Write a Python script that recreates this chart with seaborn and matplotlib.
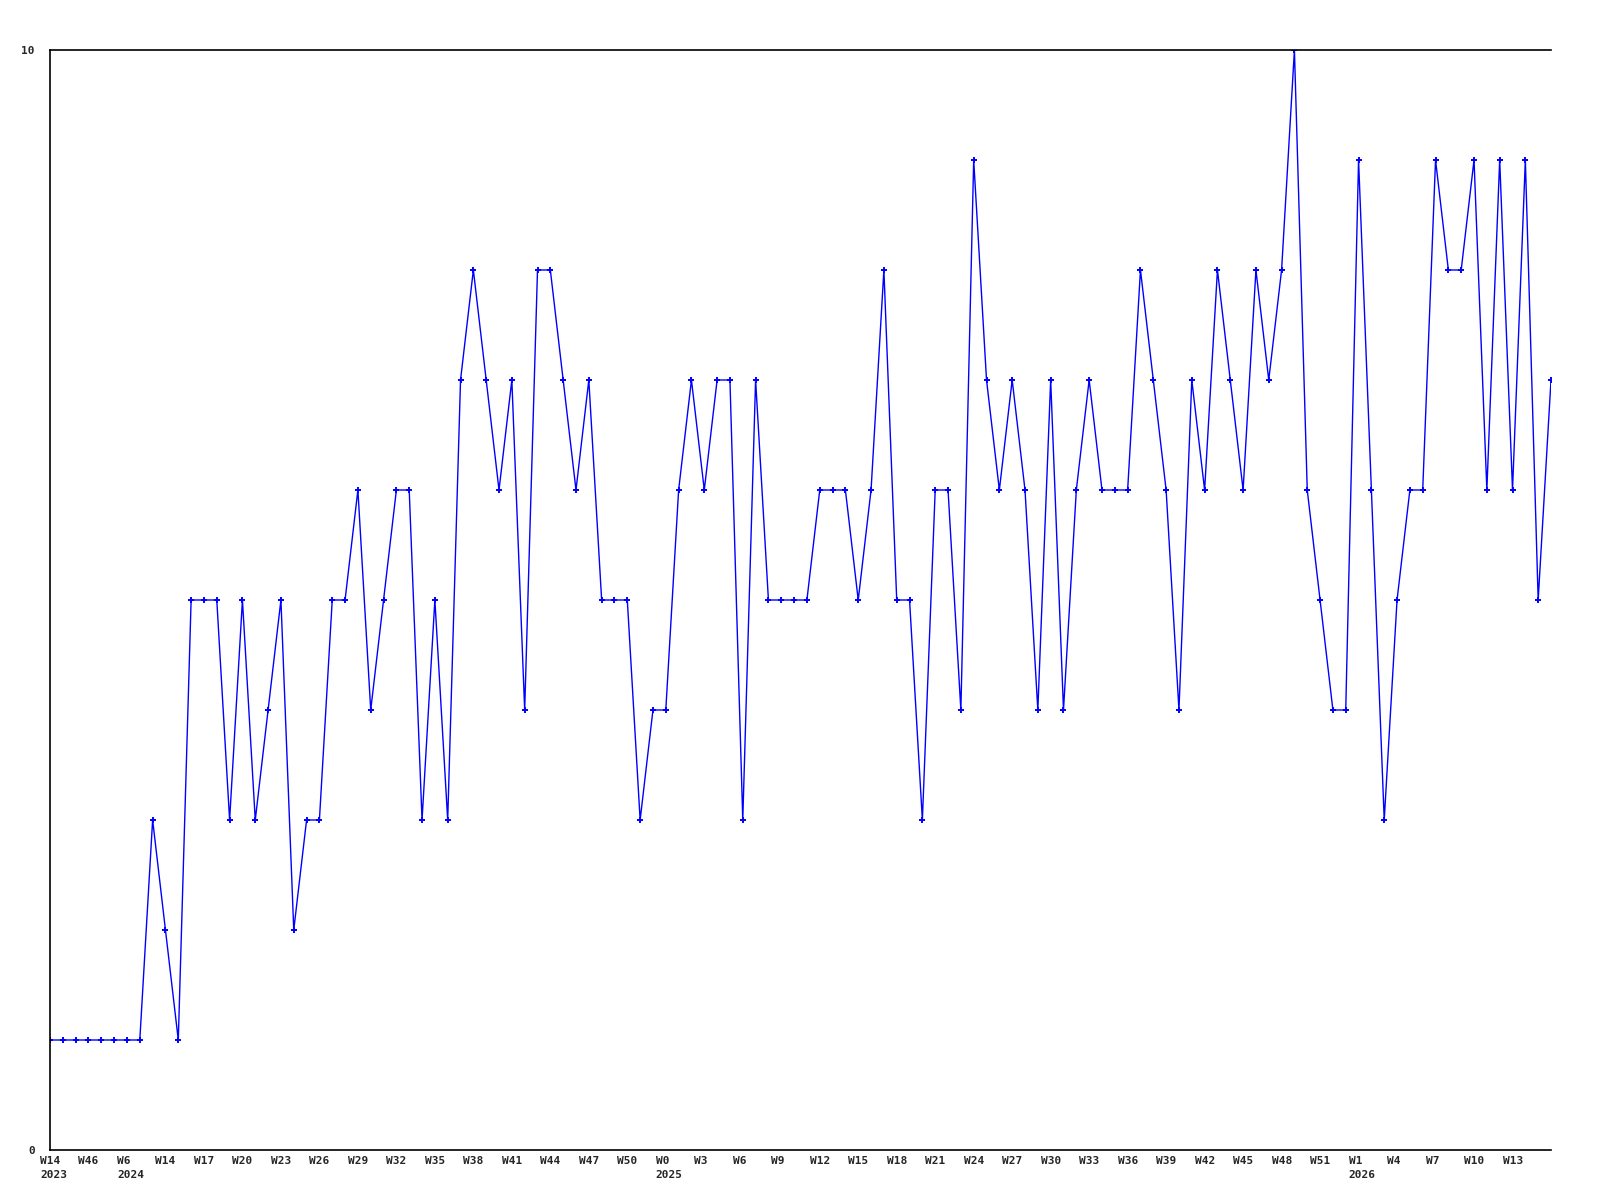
import numpy as np
import pandas as pd
import matplotlib
matplotlib.use("Agg")
import matplotlib.pyplot as plt
import seaborn as sns

# weekly counts, one per week
counts = [1, 1, 1, 1, 1, 1, 1, 1, 3, 2,
          1, 5, 5, 5, 3, 5, 3, 4, 5, 2,
          3, 3, 5, 5, 6, 4, 5, 6, 6, 3,
          5, 3, 7, 8, 7, 6, 7, 4, 8, 8,
          7, 6, 7, 5, 5, 5, 3, 4, 4, 6,
          7, 6, 7, 7, 3, 7, 5, 5, 5, 5,
          6, 6, 6, 5, 6, 8, 5, 5, 3, 6,
          6, 4, 9, 7, 6, 7, 6, 4, 7, 4,
          6, 7, 6, 6, 6, 8, 7, 6, 4, 7,
          6, 8, 7, 6, 8, 7, 8, 10, 6, 5,
          4, 4, 9, 6, 3, 5, 6, 6, 9, 8,
          8, 9, 6, 9, 6, 9, 5, 7]

tick_labels = ["W14\n2023", "W46", "W6\n2024", "W14", "W17", "W20", "W23", "W26",
               "W29", "W32", "W35", "W38", "W41", "W44", "W47", "W50",
               "W0\n2025", "W3", "W6", "W9", "W12", "W15", "W18", "W21",
               "W24", "W27", "W30", "W33", "W36", "W39", "W42", "W45",
               "W48", "W51", "W1\n2026", "W4", "W7", "W10", "W13"]

df = pd.DataFrame({"week": np.arange(len(counts)), "count": counts})

sns.set_style("white")
plt.rcParams['font.family'] = ['DejaVu Sans Mono']
plt.rcParams['font.weight'] = 'bold'

fig = plt.figure(figsize=(16, 12), dpi=100)
ax = fig.add_axes([50/1600, 50/1200, 1501/1600, 1100/1200])

sns.lineplot(data=df, x="week", y="count", ax=ax, color="#0000ff",
             linewidth=1.0, marker="+", markersize=4, markeredgewidth=1.4,
             markeredgecolor="#0000ff")

ax.set_xlim(0, len(counts) - 1)
ax.set_ylim(0, 10)
ax.set_xlabel("")
ax.set_ylabel("")

# week labels, left aligned a bit before each tick
ax.set_xticks([])
ticks = np.arange(0, len(counts), 3)[:len(tick_labels)]
for t, lab in zip(ticks, tick_labels):
    ax.annotate(lab, xy=(t, 0), xycoords=("data", "axes fraction"),
                xytext=(-10, -6), textcoords="offset pixels",
                ha="left", va="top", fontsize=8, fontweight="bold",
                linespacing=1.55, annotation_clip=False)

ax.set_yticks([0, 10])
ax.set_yticklabels(["0", "10"], fontsize=8, fontweight="bold")
ax.tick_params(axis="both", length=0)
ax.tick_params(axis="y", pad=11)

for s in ["left", "top", "bottom"]:
    ax.spines[s].set_color("black")
    ax.spines[s].set_linewidth(1.2)
ax.spines["right"].set_visible(False)

fig.savefig("out.png", dpi=100, facecolor="white")
